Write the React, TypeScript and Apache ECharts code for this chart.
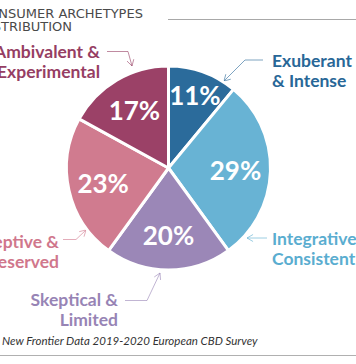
import React, { useEffect, useRef } from "react";
import * as echarts from "echarts";

const categories = [
  "Exuberant\n& Intense",
  "Integrative &\nConsistent",
  "Skeptical &\nLimited",
  "Receptive &\nReserved",
  "Ambivalent &\nExperimental",
];
const shares = [11, 29, 20, 23, 17];
const sliceColors = ["#2b6b9b", "#68b3d4", "#9b87b7", "#d07b8f", "#9b4167"];
const labelColors = ["#286797", "#5aadd0", "#9784b5", "#d0778c", "#963e63"];
const titleLines = ["CONSUMER ARCHETYPES", "DISTRIBUTION"];
const sourceText = "New Frontier Data 2019-2020 European CBD Survey";

// label layout (position, alignment) for each category
const labelLayout = [
  { x: 272, y: 70.5, align: "left" },
  { x: 272, y: 248, align: "left" },
  { x: 118, y: 309, align: "right" },
  { x: 59, y: 251, align: "right" },
  { x: 100, y: 61.5, align: "right" },
];
// arrow paths (last point is the tip)
const arrowPaths = [
  [[263, 60], [245, 60], [224, 81]],
  [[267, 238], [247, 238]],
  [[125, 300.5], [147, 300.5], [160, 273]],
  [[63, 239.5], [76, 239.5], [86, 230]],
  [[107, 51.5], [128, 51.5], [132, 66]],
];

function arrowHead(path: number[][]) {
  const tip = path[path.length - 1];
  const prev = path[path.length - 2];
  const dx = prev[0] - tip[0];
  const dy = prev[1] - tip[1];
  const len = Math.hypot(dx, dy);
  const ux = dx / len, uy = dy / len;
  const a = Math.PI / 6, L = 7;
  const p1 = [tip[0] + L * (ux * Math.cos(a) - uy * Math.sin(a)), tip[1] + L * (ux * Math.sin(a) + uy * Math.cos(a))];
  const p2 = [tip[0] + L * (ux * Math.cos(-a) - uy * Math.sin(-a)), tip[1] + L * (ux * Math.sin(-a) + uy * Math.cos(-a))];
  return [p1, tip, p2];
}

export default function App() {
  const ref = useRef<HTMLDivElement>(null);
  useEffect(() => {
    if (!ref.current) return;
    const chart = echarts.init(ref.current, null, { renderer: "svg" });
    const data = categories.map((name, i) => ({
      name,
      value: shares[i],
      itemStyle: { color: sliceColors[i] },
    }));
    const graphics: any[] = [];
    graphics.push({
      type: "text",
      style: {
        text: titleLines.join("\n"),
        x: -21,
        y: 20,
        fill: "#4a4a4a",
        fontFamily: "DejaVu Sans",
        fontSize: 13,
        lineHeight: 13.5,
        textAlign: "left",
        textVerticalAlign: "middle",
      },
    });
    graphics.push({
      type: "line",
      shape: { x1: 168, y1: 19.5, x2: 356, y2: 19.5 },
      style: { stroke: "#a8a8a8", lineWidth: 1 },
    });
    categories.forEach((name, i) => {
      const lay = labelLayout[i];
      graphics.push({
        type: "text",
        style: {
          text: name,
          x: lay.x,
          y: lay.y,
          fill: labelColors[i],
          fontFamily: "Lato",
          fontWeight: "bold",
          fontSize: 17.5,
          lineHeight: 20,
          textAlign: lay.align,
          textVerticalAlign: "middle",
        },
      });
      graphics.push({
        type: "polyline",
        shape: { points: arrowPaths[i] },
        style: { stroke: labelColors[i], opacity: 0.6, lineWidth: 1, fill: null },
      });
      graphics.push({
        type: "polyline",
        shape: { points: arrowHead(arrowPaths[i]) },
        style: { stroke: labelColors[i], opacity: 0.6, lineWidth: 1, fill: null },
      });
    });
    graphics.push({
      type: "text",
      style: {
        text: sourceText,
        x: 2,
        y: 340,
        fill: "#333333",
        fontFamily: "Lato",
        fontStyle: "italic",
        fontSize: 11.5,
        textAlign: "left",
        textVerticalAlign: "middle",
      },
    });
    graphics.push({
      type: "line",
      shape: { x1: 0, y1: 355.5, x2: 356, y2: 355.5 },
      style: { stroke: "#b0b0b0", lineWidth: 1 },
    });

    const pctLabel = {
      position: "inside",
      formatter: "{c}%",
      color: "#ffffff",
      fontFamily: "Lato",
      fontWeight: "bold",
      fontSize: 26,
    };

    chart.setOption({
      animation: false,
      backgroundColor: "#ffffff",
      series: [
        {
          type: "pie",
          center: [168.5, 168],
          radius: [0, 102],
          startAngle: 90,
          clockwise: true,
          silent: true,
          label: { show: false },
          labelLine: { show: false },
          itemStyle: { borderColor: "#ffffff", borderWidth: 3 },
          data,
        },
        {
          // percentage labels for the wider slices
          type: "pie",
          center: [168.5, 168],
          radius: [38, 90],
          startAngle: 90,
          clockwise: true,
          silent: true,
          itemStyle: { color: "rgba(0,0,0,0)" },
          label: { ...pctLabel, show: true },
          labelLine: { show: false },
          data: categories.map((name, i) => ({
            name,
            value: shares[i],
            label: { show: shares[i] >= 15 },
          })),
        },
        {
          // percentage label for the narrow slice, set further out
          type: "pie",
          center: [168.5, 168],
          radius: [52, 98],
          startAngle: 90,
          clockwise: true,
          silent: true,
          itemStyle: { color: "rgba(0,0,0,0)" },
          label: { ...pctLabel, show: true },
          labelLine: { show: false },
          data: categories.map((name, i) => ({
            name,
            value: shares[i],
            label: { show: shares[i] < 15 },
          })),
        },
      ],
      graphic: graphics,
    });
    return () => chart.dispose();
  }, []);
  return (
    <div
      ref={ref}
      style={{ position: "absolute", left: 0, top: 0, width: 356, height: 364 }}
    />
  );
}
